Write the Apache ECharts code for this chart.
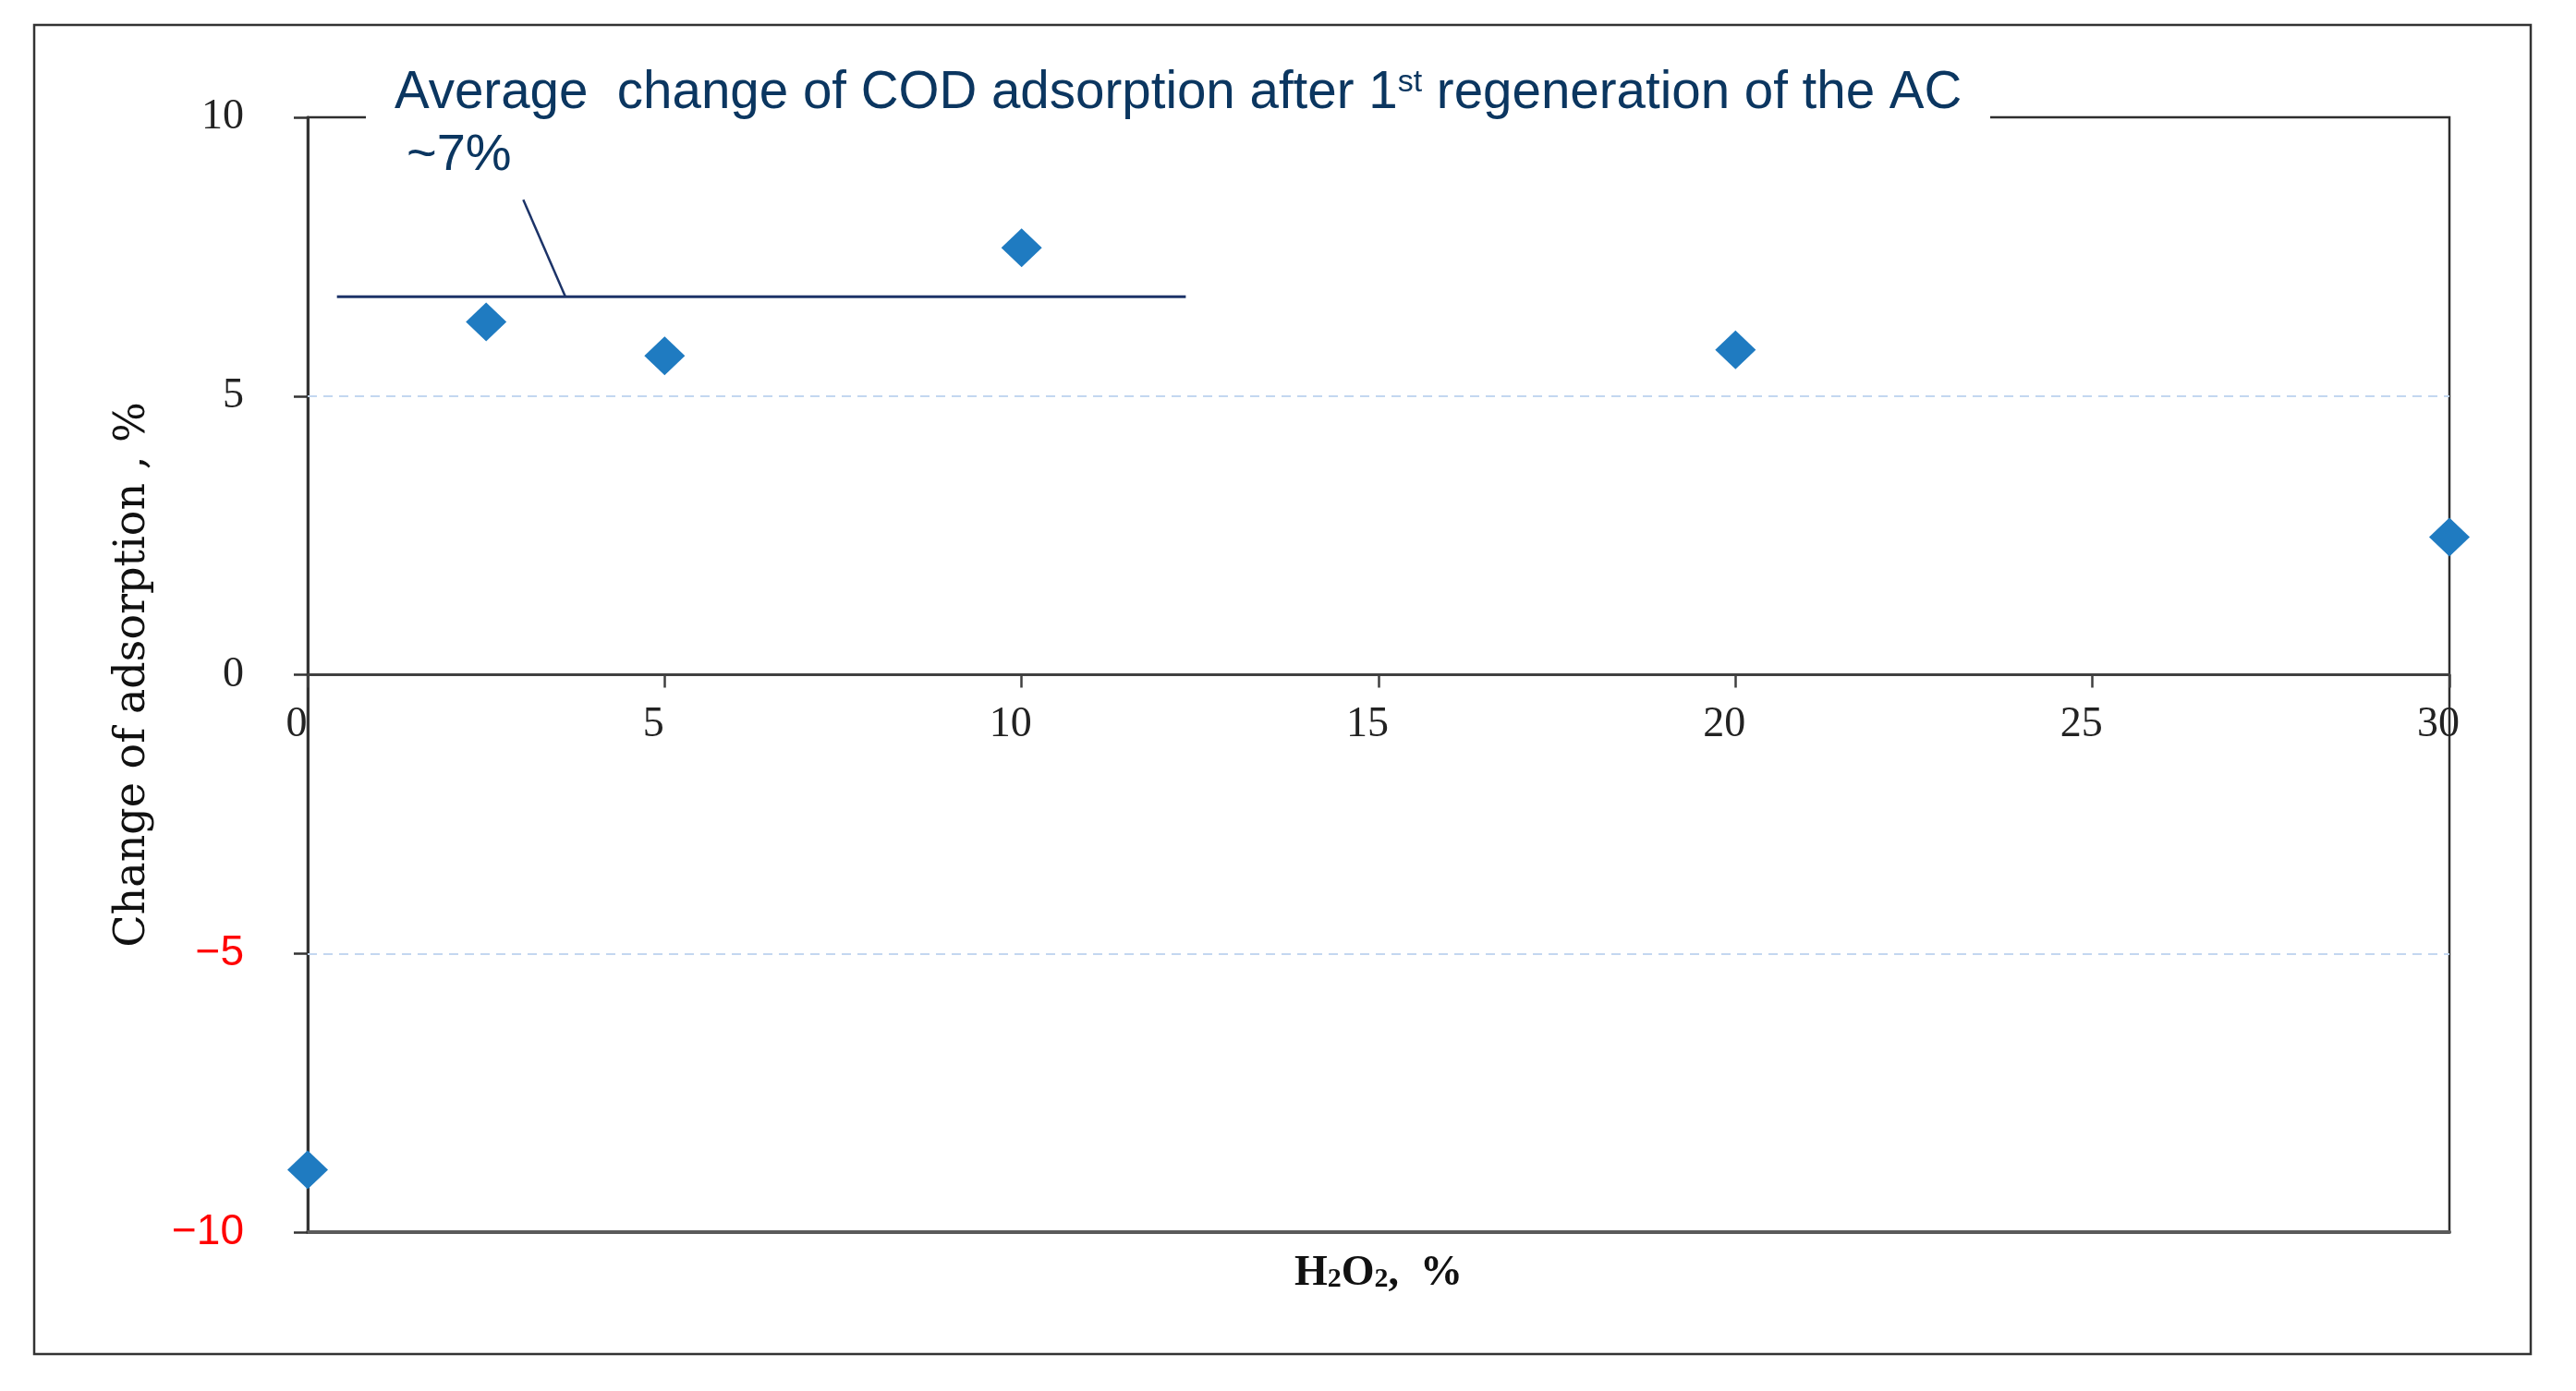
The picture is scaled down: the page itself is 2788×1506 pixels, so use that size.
<!DOCTYPE html>
<html><head><meta charset="utf-8">
<script src="https://cdn.jsdelivr.net/npm/echarts@6/dist/echarts.min.js"></script>
<style>html,body{margin:0;padding:0;background:#fff}#c{width:2788px;height:1506px}</style>
</head><body><div id="c"></div>
<script>
// ---- data ----
const h2o2 = [0, 2.5, 5, 10, 20, 30];
const changeOfAdsorption = [-8.88, 6.33, 5.72, 7.66, 5.83, 2.47];
const xTickValues = [0, 5, 10, 15, 20, 25, 30];
const yTickValues = [-10, -5, 0, 5, 10];
const dashedGridValues = [-5, 5];
const averageLineX = [0.41, 12.3];
const averageLineY = [6.78, 6.78];
const leaderLineX = [3.02, 3.61];
const leaderLineY = [8.52, 6.78];
const annotationPart1 = 'Average  change of COD adsorption after 1';
const annotationSup = 'st';
const annotationPart2 = ' regeneration of the AC';
const annotationValue = '~7%';
const yAxisTitle = 'Change of adsorption , %';

const navy = '#0b3660';
const W = 2788, H = 1506;
const G = { left: 333, right: 137, top: 127, bottom: 172 };
const yMin = yTickValues[0], yMax = yTickValues[yTickValues.length - 1];
// pixel row of y = 0 inside grid 0 (used to size the upper helper grid)
const zeroBottom = H - (G.top + (H - G.top - G.bottom) * (yMax - 0) / (yMax - yMin));

const chart = echarts.init(document.getElementById('c'));
const pairs = (xs, ys) => xs.map((x, i) => [x, ys[i]]);
const xMin = xTickValues[0], xMax = xTickValues[xTickValues.length - 1];

chart.setOption({
  backgroundColor: '#ffffff',
  animation: false,
  grid: [
    { left: G.left, right: G.right, top: G.top, bottom: G.bottom, show: true, borderColor: '#2e2e2e', borderWidth: 2.5, backgroundColor: 'transparent' },
    { left: G.left, right: G.right, top: G.top, bottom: zeroBottom, show: false }
  ],
  xAxis: [{
    gridIndex: 0, type: 'value', min: xMin, max: xMax, position: 'bottom',
    axisLine: { show: true, onZero: false, lineStyle: { color: '#5a5a5a', width: 4 } },
    axisTick: { show: false }, axisLabel: { show: false }, splitLine: { show: false },
    name: '{t|H}{s|2}{t|O}{s|2}{t|,  %}', nameLocation: 'middle', nameGap: 22,
    nameTextStyle: {
      verticalAlign: 'top',
      rich: {
        t: { fontFamily: 'Liberation Serif', fontWeight: 'bold', fontSize: 46, lineHeight: 46, color: '#111', verticalAlign: 'top', padding: [0, 0, 16, 0] },
        s: { fontFamily: 'Liberation Serif', fontWeight: 'bold', fontSize: 30, lineHeight: 30, color: '#111', verticalAlign: 'bottom', padding: [0, 0, 2, 0] }
      }
    }
  }, {
    gridIndex: 1, type: 'value', min: xMin, max: xMax, interval: 5, position: 'bottom',
    axisLine: { show: true, onZero: false, lineStyle: { color: '#404040', width: 3 } },
    axisTick: { show: true, inside: false, length: 14, lineStyle: { color: '#404040', width: 2.5 } },
    axisLabel: { margin: 31, padding: [0, 24, 0, 0], fontFamily: 'Liberation Serif', fontSize: 46, color: '#222' },
    splitLine: { show: false }
  }],
  yAxis: [{
    gridIndex: 0, type: 'value', min: yMin, max: yMax, interval: 5,
    axisLine: { show: true, onZero: false, lineStyle: { color: '#333', width: 3 } },
    axisTick: { show: true, inside: false, length: 15, lineStyle: { color: '#333', width: 2.5 } },
    axisLabel: {
      margin: 69,
      formatter: v => v < 0 ? '{n|\u2212' + Math.abs(v) + '}' : '{p|' + v + '}',
      rich: {
        n: { color: '#ff0000', fontFamily: 'Liberation Sans', fontSize: 46 },
        p: { color: '#222', fontFamily: 'Liberation Serif', fontSize: 46 }
      }
    },
    splitLine: { show: false },
    name: yAxisTitle, nameLocation: 'middle', nameGap: 166, nameRotate: 90,
    nameTextStyle: { fontFamily: 'DejaVu Serif', fontSize: 46, color: '#111' }
  }, {
    gridIndex: 1, type: 'value', min: 0, max: yMax, show: false
  }],
  series: [{
    type: 'scatter', xAxisIndex: 0, yAxisIndex: 0, symbol: 'diamond', symbolSize: [44, 42],
    itemStyle: { color: '#1f7bc1', opacity: 1 }, z: 5,
    data: pairs(h2o2, changeOfAdsorption),
    markLine: {
      silent: true, symbol: 'none', label: { show: false },
      lineStyle: { color: '#c3d7f0', type: [10, 7], width: 2 },
      data: dashedGridValues.map(v => ({ yAxis: v }))
    }
  }, {
    type: 'line', xAxisIndex: 0, yAxisIndex: 0, symbol: 'none', silent: true,
    lineStyle: { color: '#1c3368', width: 3 }, data: pairs(averageLineX, averageLineY), z: 4
  }, {
    type: 'line', xAxisIndex: 0, yAxisIndex: 0, symbol: 'none', silent: true,
    lineStyle: { color: '#1c3368', width: 2.5 }, data: pairs(leaderLineX, leaderLineY), z: 4
  }],
  graphic: [
    { type: 'rect', z: -10, silent: true, shape: { x: 37, y: 27, width: 2702, height: 1439 }, style: { fill: 'none', stroke: '#333', lineWidth: 2.5 } },
    { type: 'rect', z: 100, silent: true, shape: { x: 396, y: 55, width: 1758, height: 150 }, style: { fill: '#ffffff' } },
    { type: 'text', z: 101, silent: true, x: 427, y: 101,
      style: {
        text: '{a|' + annotationPart1 + '}{b|' + annotationSup + '}{a|' + annotationPart2 + '}',
        verticalAlign: 'middle', align: 'left',
        rich: {
          a: { fontFamily: 'Liberation Sans', fontSize: 56.5, fill: navy, verticalAlign: 'bottom' },
          b: { fontFamily: 'Liberation Sans', fontSize: 34, fill: navy, verticalAlign: 'top' }
        }
      } },
    { type: 'text', z: 101, silent: true, x: 440, y: 169,
      style: { text: annotationValue, font: '56px "Liberation Sans"', fill: navy, verticalAlign: 'middle', align: 'left' } }
  ]
});
</script></body></html>
